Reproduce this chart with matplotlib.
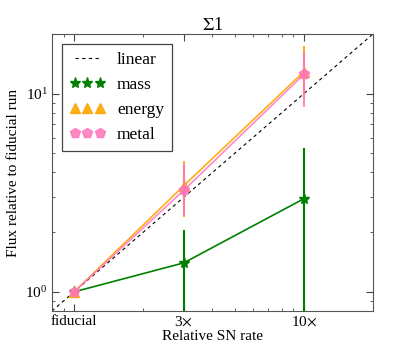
import matplotlib
matplotlib.use("Agg")
import matplotlib.pyplot as plt
import numpy as np

plt.rcParams['font.family'] = ['Liberation Serif', 'DejaVu Serif']
plt.rcParams['mathtext.fontset'] = 'stix'

sn_rate = [1, 3, 10]
tick_labels = ['fiducial', r'3$\times$', r'10$\times$']

mass = [1.0, 1.40, 2.95]
mass_lo = [1.0, 0.3, 0.5]
mass_hi = [1.0, 2.06, 5.34]

energy = [1.0, 3.43, 12.9]
energy_lo = [1.0, 2.39, 9.5]
energy_hi = [1.0, 4.59, 17.3]

metal = [1.0, 3.25, 12.5]
metal_lo = [1.0, 2.42, 8.6]
metal_hi = [1.0, 4.4, 16.3]

linear = [0.8, 20]

fig = plt.figure(figsize=(4.15, 3.46), dpi=100)
ax = fig.add_axes([0.125, 0.101, 0.774, 0.801])

ax.plot(linear, linear, 'k--', lw=0.8, dashes=(3, 3), label='linear')

def series(y, lo, hi, color, marker, ms, label, alpha=1.0):
    y = np.array(y); lo = np.array(lo); hi = np.array(hi)
    ax.errorbar(sn_rate, y, yerr=[y - lo, hi - y], color=color,
                elinewidth=1.5, alpha=alpha, capsize=0, fmt='none')
    ax.plot(sn_rate, y, color=color, lw=1.2, alpha=alpha)
    ax.plot(sn_rate, y, ls='none', marker=marker, ms=ms, color=color,
            markeredgecolor=color, alpha=alpha, label=label)

series(mass, mass_lo, mass_hi, 'green', '*', 8, 'mass')
series(energy, energy_lo, energy_hi, 'orange', '^', 7, 'energy', 0.9)
series(metal, metal_lo, metal_hi, '#ff77bb', 'p', 7, 'metal', 0.85)

ax.set_xscale('log')
ax.set_yscale('log')
ax.set_xlim(0.8, 20)
ax.set_ylim(0.8, 20)
ax.set_xticks(sn_rate)
ax.set_xticklabels(tick_labels)
ax.tick_params(which='both', direction='in', top=True, right=True, labelsize=11,
               colors='#444444', labelcolor='black', pad=3)
ax.tick_params(which='major', length=5)
ax.tick_params(which='minor', length=2.5)
for s in ax.spines.values():
    s.set_color('#555555')

ax.set_xlabel('Relative SN rate', fontsize=11, labelpad=1)
ax.set_ylabel('Flux relative to fiducial run', fontsize=11)
ax.set_title(r'$\Sigma$1', fontsize=13, pad=3)

leg = ax.legend(loc='upper left', numpoints=3, fontsize=12.5, fancybox=False,
                framealpha=1, edgecolor='#444444', handlelength=2.0,
                handletextpad=0.7, borderpad=0.45, labelspacing=0.5,
                markerscale=1.0, borderaxespad=0.6)
leg.get_frame().set_linewidth(0.9)

fig.savefig('out.png', dpi=100)
